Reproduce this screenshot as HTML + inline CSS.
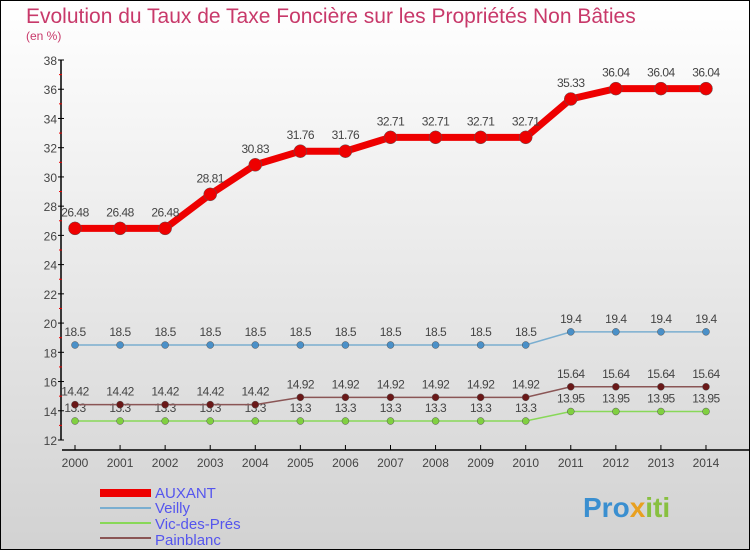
<!DOCTYPE html>
<html><head><meta charset="utf-8"><style>
body{margin:0}
#c{width:750px;height:550px;position:relative;background:linear-gradient(#fff,#d2d2d2);box-sizing:border-box;border:1px solid #000;overflow:hidden;font-family:"Liberation Sans",sans-serif}
</style></head><body>
<div id="c">
<svg width="750" height="550" id="s" style="position:absolute;left:-1px;top:-1px">
<text x="26" y="23" font-size="21" fill="#c8396a">Evolution du Taux de Taxe Foncière sur les Propriétés Non Bâties</text>
<text x="26" y="40" font-size="12" fill="#c8396a">(en %)</text>
<g id="axes"></g><g id="series"></g>
<g font-size="15" fill="#5555ee">
<rect x="100" y="489" width="51" height="8" fill="#e00"/>
<text x="155" y="498">AUXANT</text>
<rect x="100" y="507" width="51" height="2" fill="#7aaed0"/>
<text x="155" y="513">Veilly</text>
<rect x="100" y="522" width="51" height="2" fill="#88d858"/>
<text x="155" y="529">Vic-des-Prés</text>
<rect x="100" y="537" width="51" height="2" fill="#8a5555"/>
<text x="155" y="545">Painblanc</text>
</g>
<text x="583" y="517" font-size="28" font-weight="bold" fill="#3a8fd0">Pro<tspan fill="#e8a020">x</tspan><tspan fill="#88c040">iti</tspan></text>
</svg></div>
<script>
const years=[2000,2001,2002,2003,2004,2005,2006,2007,2008,2009,2010,2011,2012,2013,2014];
const auxant=[26.48,26.48,26.48,28.81,30.83,31.76,31.76,32.71,32.71,32.71,32.71,35.33,36.04,36.04,36.04];
const veilly=[18.5,18.5,18.5,18.5,18.5,18.5,18.5,18.5,18.5,18.5,18.5,19.4,19.4,19.4,19.4];
const vic=[13.3,13.3,13.3,13.3,13.3,13.3,13.3,13.3,13.3,13.3,13.3,13.95,13.95,13.95,13.95];
const painblanc=[14.42,14.42,14.42,14.42,14.42,14.92,14.92,14.92,14.92,14.92,14.92,15.64,15.64,15.64,15.64];
const yTicks=[12,14,16,18,20,22,24,26,28,30,32,34,36,38];
const NS="http://www.w3.org/2000/svg";
const X=i=>75+i*45.07, Y=v=>440-(v-12)*(380/26);
function mk(t,a,p){const e=document.createElementNS(NS,t);for(const k in a)e.setAttribute(k,a[k]);p.appendChild(e);return e;}
const ax=document.getElementById('axes');
let l=mk('line',{x1:61,y1:60,x2:61,y2:440,stroke:'#000','stroke-width':1.5},ax);

l=mk('line',{x1:62,y1:450,x2:750,y2:450,stroke:'#000','stroke-width':1.5},ax);

yTicks.forEach(v=>{mk('line',{x1:58,y1:Y(v),x2:64,y2:Y(v),stroke:'#000'},ax);
 if(v<38)mk('line',{x1:59,y1:Y(v+1),x2:62,y2:Y(v+1),stroke:'#e00'},ax);
 const t=mk('text',{x:57,y:Y(v)+5,'text-anchor':'end','font-size':12,fill:'#444'},ax);t.textContent=v;
 });
years.forEach((y,i)=>{mk('line',{x1:X(i),y1:445,x2:X(i),y2:450,stroke:'#000'},ax);
 const t=mk('text',{x:X(i),y:467,'text-anchor':'middle','font-size':12,fill:'#444'},ax);t.textContent=y;
 });
const sg=document.getElementById('series');
function series(name,vals,col,w,r,fill,dy){
 const g=mk('g',{},sg);
 const p=mk('polyline',{points:vals.map((v,i)=>X(i)+','+Y(v)).join(' '),fill:'none',stroke:col,'stroke-width':w},g);
 
 vals.forEach((v,i)=>{const c=mk('circle',{cx:X(i),cy:Y(v),r:r,fill:fill,stroke:'#555','stroke-width':0.5},g);
  
  const t=mk('text',{x:X(i),y:Y(v)+dy,'text-anchor':'middle','font-size':12,fill:'#444','letter-spacing':'-0.5'},g);t.textContent=v;
  });
}
series('auxant',auxant,'#e00',7,6.5,'#e00',-12);
series('veilly',veilly,'#7aaed0',1.5,3.5,'#4a90c8',-9);
series('vic-des-pres',vic,'#88d858',1.5,3.5,'#80d040',-9);
series('painblanc',painblanc,'#8a5555',1.5,3.5,'#6a1818',-9);
</script></body></html>
